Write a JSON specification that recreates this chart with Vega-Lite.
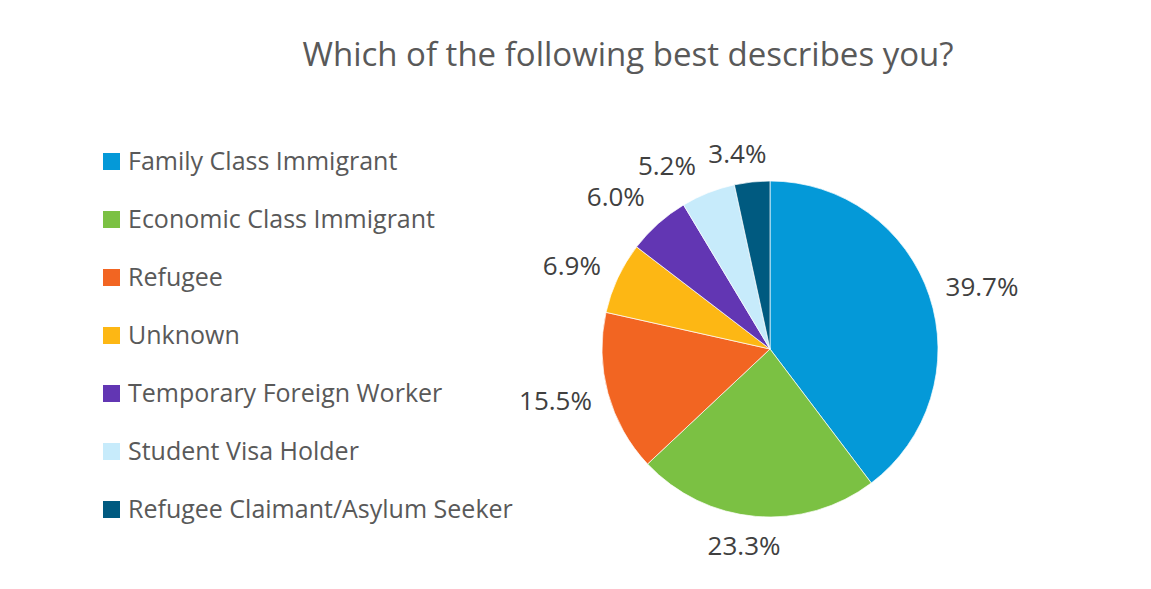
{
  "$schema": "https://vega.github.io/schema/vega-lite/v6.json",
  "autosize": {"type": "none"},
  "width": 336,
  "height": 336,
  "padding": {"left": 602, "top": 181, "right": 213, "bottom": 72},
  "background": "white",
  "title": {
    "text": "Which of the following best describes you?",
    "font": "Open Sans",
    "fontSize": 33,
    "fontWeight": "normal",
    "color": "#595959",
    "anchor": "middle",
    "frame": "group",
    "dx": -142,
    "offset": 39
  },
  "data": {
    "values": [
      {"category": "Family Class Immigrant", "pct": 39.7, "label": "39.7%", "rank": 1},
      {"category": "Economic Class Immigrant", "pct": 23.3, "label": "23.3%", "rank": 2},
      {"category": "Refugee", "pct": 15.5, "label": "15.5%", "rank": 3},
      {"category": "Unknown", "pct": 6.9, "label": "6.9%", "rank": 4},
      {"category": "Temporary Foreign Worker", "pct": 6.0, "label": "6.0%", "rank": 5},
      {"category": "Student Visa Holder", "pct": 5.2, "label": "5.2%", "rank": 6},
      {"category": "Refugee Claimant/Asylum Seeker", "pct": 3.4, "label": "3.4%", "rank": 7}
    ]
  },
  "encoding": {
    "theta": {"field": "pct", "type": "quantitative", "stack": true},
    "order": {"field": "rank", "type": "quantitative"}
  },
  "layer": [
    {
      "mark": {"type": "arc", "outerRadius": 168, "stroke": "white", "strokeWidth": 0.7},
      "encoding": {
        "color": {
          "field": "category",
          "type": "nominal",
          "scale": {
            "domain": ["Family Class Immigrant", "Economic Class Immigrant", "Refugee", "Unknown", "Temporary Foreign Worker", "Student Visa Holder", "Refugee Claimant/Asylum Seeker"],
            "range": ["#0499D8", "#7BC143", "#F26522", "#FDB714", "#6236B3", "#C7EBFB", "#005A80"]
          },
          "legend": {
            "title": null,
            "orient": "none",
            "legendX": -503,
            "legendY": -32,
            "symbolType": "square",
            "symbolSize": 289,
            "symbolStrokeWidth": 0,
            "labelFont": "Open Sans",
            "labelFontSize": 25,
            "labelColor": "#595959",
            "labelOffset": 4,
            "rowPadding": 32,
            "labelLimit": 500
          }
        }
      }
    },
    {
      "mark": {"type": "text", "radius": 212, "dx": 11, "dy": 6, "font": "Open Sans", "fontSize": 26, "color": "#404040", "align": "center", "baseline": "middle"},
      "encoding": {"text": {"condition": {"test": "datum.rank == 1", "field": "label", "type": "nominal"}, "value": ""}}
    },
    {
      "mark": {"type": "text", "radius": 212, "dx": -8, "dy": -13, "font": "Open Sans", "fontSize": 26, "color": "#404040", "align": "center", "baseline": "middle"},
      "encoding": {"text": {"condition": {"test": "datum.rank == 2", "field": "label", "type": "nominal"}, "value": ""}}
    },
    {
      "mark": {"type": "text", "radius": 212, "dx": -10, "dy": -3, "font": "Open Sans", "fontSize": 26, "color": "#404040", "align": "center", "baseline": "middle"},
      "encoding": {"text": {"condition": {"test": "datum.rank == 3", "field": "label", "type": "nominal"}, "value": ""}}
    },
    {
      "mark": {"type": "text", "radius": 212, "dx": -6, "dy": 8, "font": "Open Sans", "fontSize": 26, "color": "#404040", "align": "center", "baseline": "middle"},
      "encoding": {"text": {"condition": {"test": "datum.rank == 4", "field": "label", "type": "nominal"}, "value": ""}}
    },
    {
      "mark": {"type": "text", "radius": 212, "dx": -13, "dy": 7, "font": "Open Sans", "fontSize": 26, "color": "#404040", "align": "center", "baseline": "middle"},
      "encoding": {"text": {"condition": {"test": "datum.rank == 5", "field": "label", "type": "nominal"}, "value": ""}}
    },
    {
      "mark": {"type": "text", "radius": 212, "dx": -25, "dy": 15, "font": "Open Sans", "fontSize": 26, "color": "#404040", "align": "center", "baseline": "middle"},
      "encoding": {"text": {"condition": {"test": "datum.rank == 6", "field": "label", "type": "nominal"}, "value": ""}}
    },
    {
      "mark": {"type": "text", "radius": 212, "dx": -10, "dy": 17, "font": "Open Sans", "fontSize": 26, "color": "#404040", "align": "center", "baseline": "middle"},
      "encoding": {"text": {"condition": {"test": "datum.rank == 7", "field": "label", "type": "nominal"}, "value": ""}}
    }
  ],
  "config": {"view": {"stroke": null}}
}
